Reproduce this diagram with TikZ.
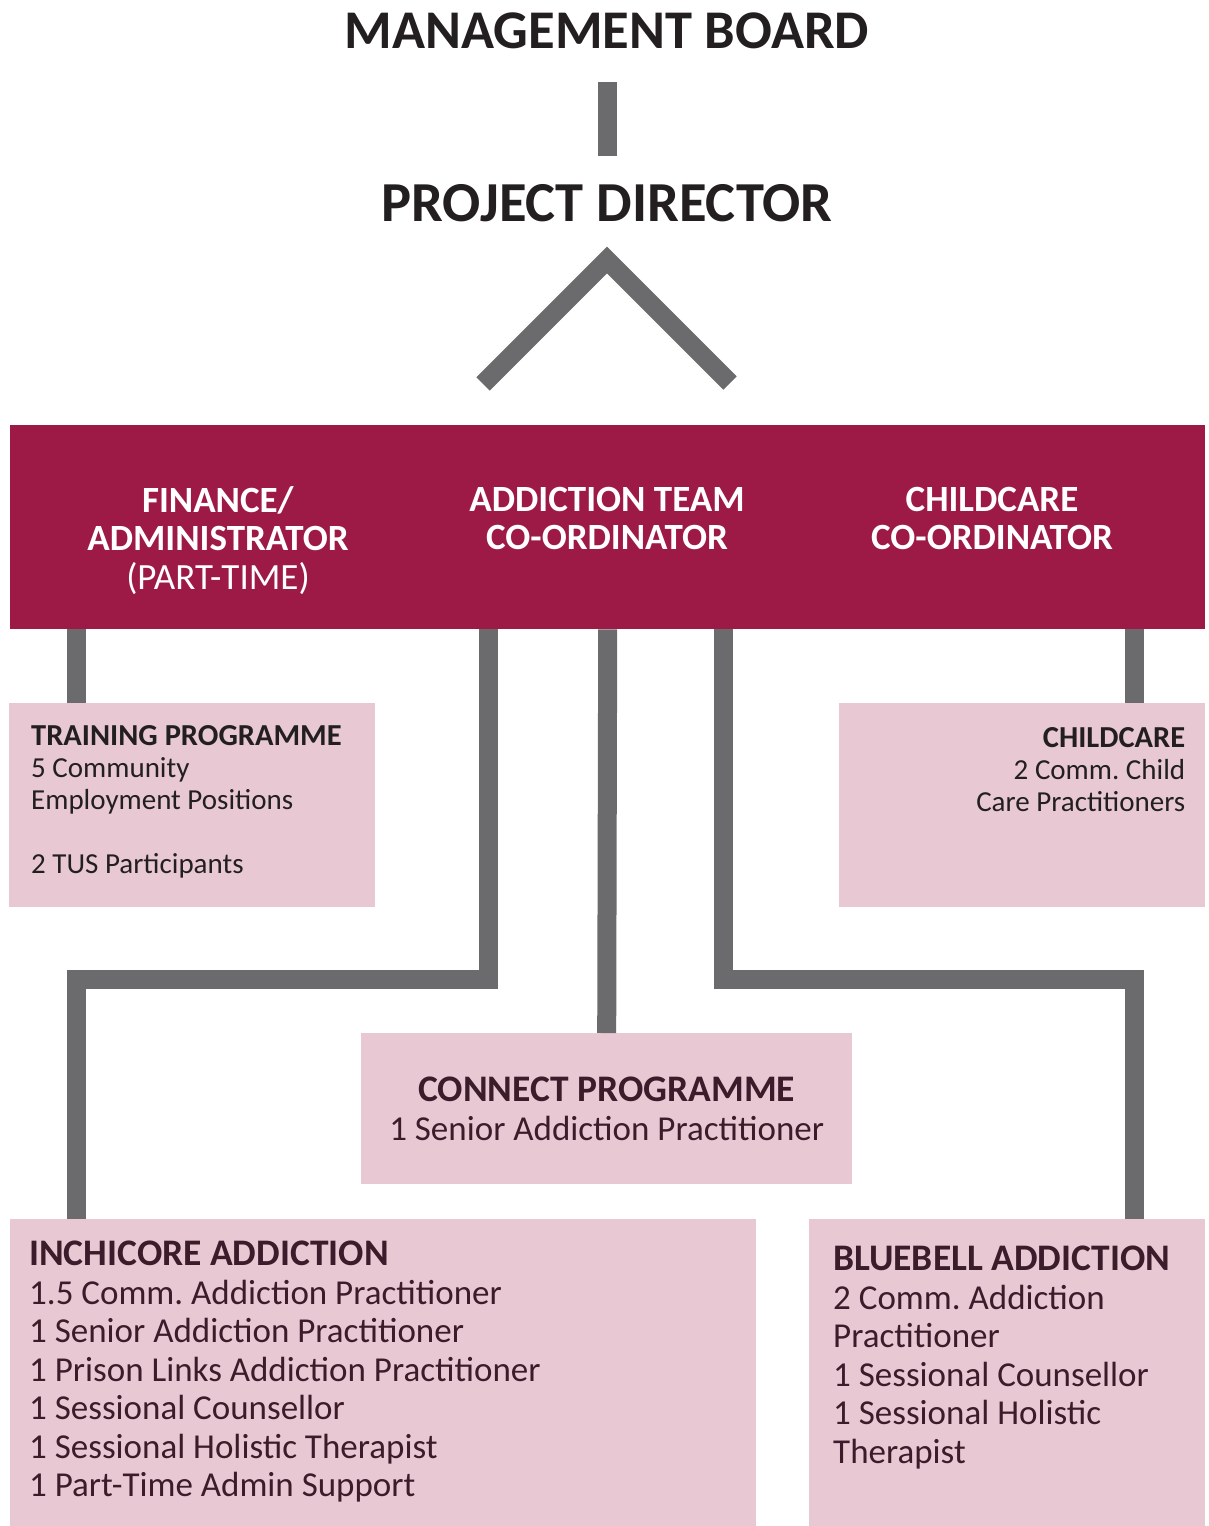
\documentclass[tikz,border=0pt]{standalone}
\usepackage{fontspec}
\setmainfont{Carlito}
\usetikzlibrary{positioning}
\definecolor{crimson}{HTML}{9E1A46}
\definecolor{rosefill}{HTML}{E8C9D3}
\definecolor{linkgray}{HTML}{6B6B6D}
\definecolor{headink}{HTML}{231F20}
\definecolor{boxink}{HTML}{3B1C2A}
\newcommand{\smallhead}[1]{{\fontsize{30.5}{32}\selectfont\bfseries #1}}
\newcommand{\bighead}[1]{{\fontsize{37.5}{38.5}\selectfont\bfseries #1}}
\frenchspacing
\begin{document}
\begin{tikzpicture}[x=1pt,y=-1pt,
headline/.style={
  font=\fontsize{56}{60}\selectfont\bfseries,
  text=headink,
  inner sep=0pt,
  anchor=base
},
banntext/.style={
  font=\fontsize{37}{38.5}\selectfont,
  text=white,
  align=center,
  inner sep=0pt,
  anchor=north
},
rosebox/.style={
  fill=rosefill,
  inner sep=0pt,
  anchor=north west
},
smalltext/.style={
  font=\fontsize{29}{32}\selectfont,
  text=headink,
  inner sep=0pt
},
bigtext/.style={
  font=\fontsize{35}{38.5}\selectfont,
  text=boxink,
  inner sep=0pt
},
link/.style={
  draw=linkgray,
  line width=19pt,
  line join=miter
}
]
\useasboundingbox (0,0) rectangle (1208,1526);

% top of the chart
\node[headline,font=\fontsize{54.5}{60}\selectfont\bfseries] (board) at (607,48) {MANAGEMENT BOARD};
\node[headline,font=\fontsize{56.5}{60}\selectfont\bfseries] (director) at (607,221) {PROJECT DIRECTOR};
\coordinate (barTop) at (607,82);
\coordinate (barBot) at (607,156);
\draw[link] (barTop) -- (barBot);

\coordinate (chevL) at (483,384);
\coordinate (chevTop) at (607,260);
\coordinate (chevR) at (730,383);
\draw[link] (chevL) -- (chevTop) -- (chevR);

% co-ordinators
\node[rosebox,fill=crimson,minimum width=1195pt,minimum height=204pt] 
  (banner) at (10,425) {};
\node[banntext] (finance) at (218,486) 
  {\textbf{FINANCE/}\\\textbf{ADMINISTRATOR}\\(PART-TIME)};
\node[banntext] (addteam) at (607,487) 
  {\textbf{ADDICTION TEAM}\\\textbf{CO-ORDINATOR}};
\node[banntext] (childco) at (992,487) 
  {\textbf{CHILDCARE}\\\textbf{CO-ORDINATOR}};

% programmes
\node[rosebox,minimum width=366pt,minimum height=204pt] 
  (train) at (9,703) {};
\node[smalltext,align=left,below right=22pt and 22pt of train.north west] 
  (trainText) {\smallhead{TRAINING PROGRAMME}\\5 Community\\Employment Positions\\[32pt]2 TUS Participants};

\node[rosebox,minimum width=366pt,minimum height=204pt] 
  (child) at (839,703) {};
\node[smalltext,align=right,below left=24pt and 20pt of child.north east] 
  (childText) {\smallhead{CHILDCARE}\\2 Comm. Child\\Care Practitioners};

\node[rosebox,minimum width=491pt,minimum height=151pt] 
  (connect) at (361,1033) {};
\node[bigtext,align=center,below=44pt of connect.north] 
  (connectText) {\bighead{CONNECT PROGRAMME}\\1 Senior Addiction Practitioner};

\node[rosebox,minimum width=746pt,minimum height=307pt] 
  (inchicore) at (10,1219) {};
\node[bigtext,align=left,below right=22pt and 19pt of inchicore.north west] 
  (inchicoreText) {\bighead{INCHICORE ADDICTION}\\1.5 Comm. Addiction Practitioner\\1 Senior Addiction Practitioner\\1 Prison Links Addiction Practitioner\\1 Sessional Counsellor\\1 Sessional Holistic Therapist\\1 Part-Time Admin Support};

\node[rosebox,minimum width=396pt,minimum height=307pt] 
  (bluebell) at (809,1219) {};
\node[bigtext,align=left,below right=27pt and 24pt of bluebell.north west] 
  (bluebellText) {\bighead{BLUEBELL ADDICTION}\\2 Comm. Addiction\\Practitioner\\1 Sessional Counsellor\\1 Sessional Holistic\\Therapist};

% connectors
\coordinate (trainX) at (76,0);
\coordinate (childX) at (1134,0);
\coordinate (bendL) at (488,979);
\coordinate (bendLL) at (76,979);
\coordinate (bendR) at (723,979);
\coordinate (bendRR) at (1134,979);

\draw[link] (banner.south -| trainX) -- (train.north -| trainX);
\draw[link] (banner.south -| childX) -- (child.north -| childX);
\draw[link] (banner.south) -- (connect.north);
\draw[link] (banner.south -| bendL) -- (bendL) -- (bendLL) -- (inchicore.north -| bendLL);
\draw[link] (banner.south -| bendR) -- (bendR) -- (bendRR) -- (bluebell.north -| bendRR);
\end{tikzpicture}
\end{document}
